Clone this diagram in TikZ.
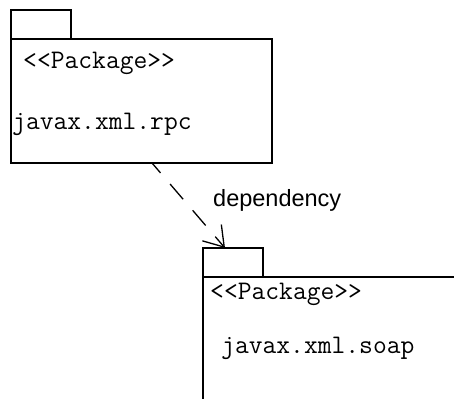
\documentclass[tikz,border=0pt]{standalone}
\usepackage{fontspec}
\newfontfamily\labelfont{Liberation Sans}
\usetikzlibrary{arrows.meta,calc}

\tikzset{
  pkgpart/.style={draw=black, line width=1.3pt, rectangle, inner sep=0pt, outer sep=0pt, anchor=north west},
  pkgtab/.style={draw=black, line width=1.3pt, rectangle, inner sep=0pt, outer sep=0pt,
                 minimum width=60pt, minimum height=29pt, anchor=south west},
  codetext/.style={inner sep=0pt, anchor=base west, font=\ttfamily\fontsize{26.8}{30}\selectfont},
  labeltext/.style={inner sep=0pt, anchor=base west, font=\labelfont\fontsize{23.5}{28}\selectfont},
  dep/.style={line width=1.3pt, dash pattern=on 20pt off 14.7pt, dash phase=7pt,
              -{Straight Barb[length=19pt,width=25pt]}}
}

\begin{document}
\begin{tikzpicture}[x=1pt,y=-1pt]
  \clip (0,0) rectangle (454,398);
  \fill[white] (0,0) rectangle (454,398);

  % package javax.xml.rpc
  \node[pkgpart, minimum width=261pt, minimum height=124pt] (rpcBody) at (11,39) {};
  \node[pkgtab] (rpcTab) at (rpcBody.north west) {};
  \node[codetext] (rpcStereo) at ([shift={(12,30)}]rpcBody.north west) {<<Package>>};
  \node[codetext] (rpcName) at ([shift={(1,91)}]rpcBody.north west) {javax.xml.rpc};

  % package javax.xml.soap (runs past the right and bottom edges)
  \node[pkgpart, minimum width=300pt, minimum height=200pt] (soapBody) at (203,277) {};
  \node[pkgtab] (soapTab) at (soapBody.north west) {};
  \node[codetext] (soapStereo) at ([shift={(7,22)}]soapBody.north west) {<<Package>>};
  \node[codetext] (soapName) at ([shift={(18,76)}]soapBody.north west) {javax.xml.soap};

  % dependency arrow
  \draw[dep] ([xshift=141pt]rpcBody.south west) -- ([xshift=22pt]soapTab.north west);
  \node[labeltext] (depLabel) at (213,206) {dependency};
\end{tikzpicture}
\end{document}
